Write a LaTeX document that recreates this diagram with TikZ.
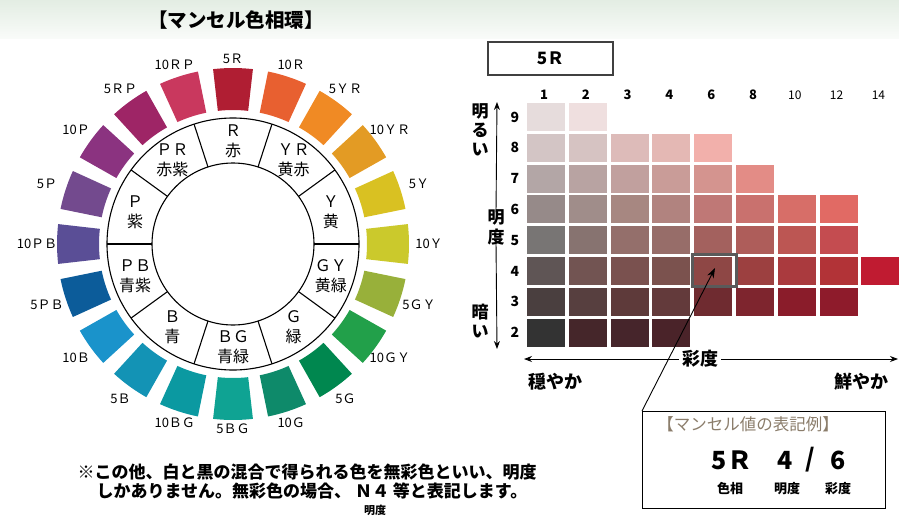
\documentclass[tikz,border=0pt]{standalone}
\usepackage{fontspec}
\setmainfont{Noto Sans CJK JP}
\usetikzlibrary{arrows.meta}
\definecolor{legendtitle}{HTML}{8B7D6B}
\definecolor{bandtop}{HTML}{E3EDE3}
\definecolor{bandbot}{HTML}{F9FBF9}
\definecolor{hlgray}{HTML}{5A5A5A}
\begin{document}
\begin{tikzpicture}[x=1pt,y=-1pt,
  fs/.style={font=\fontsize{#1}{#1}\selectfont},
  lbl/.style={font=\fontsize{13}{13}\selectfont, inner sep=0pt},
  ringlbl/.style={font=\fontsize{16}{20}\selectfont, align=center, inner sep=0pt},
  cell/.style={minimum width=38pt, minimum height=28pt, inner sep=0pt, draw=none},
  hdr/.style={font=\fontsize{13}{13}\selectfont\bfseries, inner sep=0pt},
  hdrthin/.style={font=\fontsize{12}{12}\selectfont, inner sep=0pt},
  axlbl/.style={font=\fontsize{17}{19}\selectfont\bfseries, align=center, inner sep=0pt},
  axarrow/.style={line width=0.9pt, -{Stealth[length=8pt,width=6pt]}},
  big/.style={font=\fontsize{25}{25}\selectfont\bfseries, inner sep=0pt},
  ]
\useasboundingbox (0,0) rectangle (899,525);
\shade[top color=bandtop, bottom color=bandbot] (0,0) rectangle (899,38);

% title
\node[font=\fontsize{19.5}{19.5}\selectfont\bfseries] (title) at (236,20) {【マンセル色相環】};

% hue wheel
\begin{scope}[shift={(233,244)}, y=1pt]
  \foreach \k/\c/\t in {0/B01E33/5Ｒ, 1/E86030/10Ｒ, 2/F08A24/5ＹＲ, 3/E39B24/10ＹＲ,
      4/D9C122/5Ｙ, 5/CBC92C/10Ｙ, 6/98B03A/5ＧＹ, 7/22A04A/10ＧＹ, 8/00874F/5Ｇ,
      9/0E8A6A/10Ｇ, 10/0FA393/5ＢＧ, 11/0B99A1/10ＢＧ, 12/1393B5/5Ｂ, 13/1A93CB/10Ｂ,
      14/0C5C9A/5ＰＢ, 15/5A4E96/10ＰＢ, 16/734A8E/5Ｐ, 17/8B3380/10Ｐ, 18/9E2566/5ＲＰ,
      19/C9385E/10ＲＰ} {
    \pgfmathsetmacro\a{90-18*\k}
    \definecolor{sw}{HTML}{\c}
    \fill[sw] (\a-6.5:134) arc[start angle=\a-6.5, end angle=\a+6.5, radius=134]
      -- (\a+6.5:176) arc[start angle=\a+6.5, end angle=\a-6.5, radius=176] -- cycle;
    \pgfmathsetmacro\r{185+11*abs(cos(\a))}
    \node[lbl] (o\k) at (\a:\r) {\t};
  }
  \draw[line width=1.1pt] (0,0) circle[radius=126];
  \draw[line width=1.1pt] (0,0) circle[radius=81];
  \foreach \a in {0,36,...,324} \draw[line width=1.1pt] (\a:81) -- (\a:126);
  \foreach \n/\a/\t in {r/90/Ｒ\\赤, yr/54/ＹＲ\\黄赤, y/18/Ｙ\\黄, gy/-18/ＧＹ\\黄緑,
      g/-54/Ｇ\\緑, bg/-90/ＢＧ\\青緑, b/-126/Ｂ\\青, pb/-162/ＰＢ\\青紫,
      p/162/Ｐ\\紫, pr/126/ＰＲ\\赤紫}
    \node[ringlbl] (s\n) at (\a:103) {\t};
\end{scope}

% 5R chart
\node[draw=black!75, line width=1.2pt, minimum width=125pt, minimum height=33pt,
      inner sep=0pt, font=\fontsize{17}{17}\selectfont\bfseries] (hue) at (550.5,58.5) {5Ｒ};

\foreach \t [count=\i from 0] in {1,2,3,4,6,8}
  \node[hdr] (h\i) at ({544+41.8*\i},95) {\t};
\foreach \t [count=\i from 6] in {10,12,14}
  \node[hdrthin] (h\i) at ({544+41.8*\i},95) {\t};

\foreach \v/\cols in {
    9/{E6DCDC,EFDFDF},
    8/{D3C5C5,D6C3C2,DDBBB9,E4B8B4,F2B0AB},
    7/{B3A6A6,B8A3A2,C1A09E,C99C98,D4948F,E38C86},
    6/{968A89,A08D8A,A78781,B1837F,BF7876,C9716E,D76E68,E16A64},
    5/{787574,877370,946F6B,976D69,A3615E,AE5D5A,BC5653,C44C50},
    4/{5F5555,725452,7A514F,7B524E,8E4745,9C4040,AA3A3E,B23337,C01B31},
    3/{4A3F3F,573F3F,5E3A3A,633A3B,6F2B30,7E252E,8A1C2A,8E1B2B},
    2/{333333,45262A,46252B,4A2329}} {
  \node[hdr, font=\fontsize{14}{14}\selectfont\bfseries] (v\v) at (515,{117+30.8*(9-\v)}) {\v};
  \foreach \c [count=\i from 0] in \cols {
    \definecolor{cc}{HTML}{\c}
    \node[cell, fill=cc] (cell-\v-\i) at ({546+41.8*\i},{117+30.8*(9-\v)}) {};
  }
}
\node[draw=hlgray, line width=2.4pt, minimum width=44pt, minimum height=32pt, inner sep=0pt] (hl) at (714.5,270.5) {};

% axes
\node[axlbl] (bright) at (480,130) {明\\る\\い};
\node[axlbl] (dark) at (480,321) {暗\\い};
\node[axlbl, font=\fontsize{17}{20}\selectfont\bfseries] (vlab) at (496,227) {明\\度};
\coordinate (vtop) at (497,102);
\coordinate (vbot) at (497,349);
\draw[axarrow] ([yshift=-3pt]vlab.north) -- (vtop);
\draw[axarrow] ([yshift=3pt]vlab.south) -- (vbot);
\node[axlbl, font=\fontsize{18}{18}\selectfont\bfseries] (clab) at (700,359) {彩度};
\coordinate (cleft) at (524,359);
\coordinate (cright) at (898,359);
\draw[axarrow] ([xshift=-3pt]clab.west) -- (cleft);
\draw[axarrow] ([xshift=3pt]clab.east) -- (cright);
\node[axlbl, font=\fontsize{18}{18}\selectfont\bfseries] (calm) at (555,382) {穏やか};
\node[axlbl, font=\fontsize{18}{18}\selectfont\bfseries] (vivid) at (861,382) {鮮やか};

% legend box
\node[draw, line width=1.3pt, minimum width=243pt, minimum height=97pt, inner sep=0pt, anchor=north west] (legend) at (642,411) {};
\node[font=\fontsize{16.5}{16.5}\selectfont, text=legendtitle, inner sep=0pt] (ltitle) at (748,424) {【マンセル値の表記例】};
\node[big] (l5r) at (732,460) {5Ｒ};
\node[big] (l4) at (785,460) {4};
\node[big] (lsl) at (810,460) {/};
\node[big] (l6) at (838,460) {6};
\node[font=\fontsize{13}{13}\selectfont\bfseries, inner sep=0pt] (lhue) at (730,489) {色相};
\node[font=\fontsize{13}{13}\selectfont\bfseries, inner sep=0pt] (lval) at (787,489) {明度};
\node[font=\fontsize{13}{13}\selectfont\bfseries, inner sep=0pt] (lchr) at (838,489) {彩度};
\coordinate (tip) at (715,268);
\draw[line width=0.9pt, -{Stealth[length=10pt,width=7pt]}] (legend.north west) -- (tip);

% note
\node[font=\fontsize{17}{17}\selectfont\bfseries, inner sep=0pt] (note1) at (307,472) {※この他、白と黒の混合で得られる色を無彩色といい、明度};
\node[font=\fontsize{17}{17}\selectfont\bfseries, inner sep=0pt] (note2) at (312,491) {しかありません。無彩色の場合、 Ｎ４ 等と表記します。};
\node[font=\fontsize{11}{11}\selectfont\bfseries, inner sep=0pt] (note3) at (375,510) {明度};
\end{tikzpicture}
\end{document}
